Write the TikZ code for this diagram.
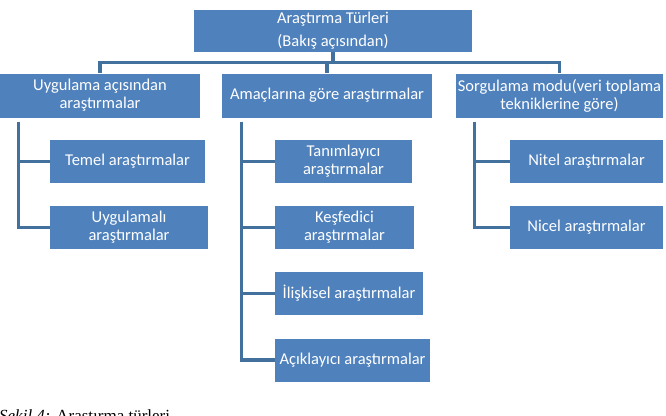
\documentclass[tikz,border=0pt]{standalone}
\usepackage{fontspec}
\setmainfont{Carlito}
\newfontfamily\capfont{Liberation Serif}
\definecolor{boxblue}{RGB}{79,129,189}
\definecolor{lineblue}{RGB}{65,113,156}
\begin{document}
\begin{tikzpicture}[x=1pt,y=-1pt,
	kutu/.style={fill=boxblue,text=white,inner sep=0pt,minimum height=43pt,align=center,font=\fontsize{16.5}{18}\selectfont},
	bag/.style={draw=lineblue,line width=3.2pt}]
	\useasboundingbox (0,0) rectangle (666,415);
	% ust kutu ve ikinci seviye
	\node[kutu,minimum width=278pt,minimum height=42pt,font=\fontsize{16.5}{23}\selectfont] (tur) at (333,31) {Araştırma Türleri\\(Bakış açısından)};
	\node[kutu,minimum width=200pt,minimum height=44pt] (uyg) at (100,95.5) {Uygulama açısından\\araştırmalar};
	\node[kutu,minimum width=210pt,minimum height=44pt] (amac) at (327,95.5) {Amaçlarına göre araştırmalar};
	\node[kutu,minimum width=207pt,minimum height=44pt] (sor) at (559.5,95.5) {Sorgulama modu(veri toplama\\tekniklerine göre)};
	% alt kutular
	\foreach \n/\x/\y/\w/\t in {temel/127.5/161.5/155/Temel araştırmalar, uygm/129/227.5/158/Uygulamalı\\araştırmalar,
		tan/343.5/161.5/137/Tanımlayıcı\\araştırmalar, kes/344.5/227.5/139/Keşfedici\\araştırmalar,
		ilis/349/293.5/148/İlişkisel araştırmalar, acik/352.5/360/155/Açıklayıcı araştırmalar,
		nitel/586.5/161.5/153/Nitel araştırmalar, nicel/586.5/227.5/153/Nicel araştırmalar}
		\node[kutu,minimum width=\w pt] (\n) at (\x,\y) {\t};
	% baglantilar
	\draw[bag](tur.south)--++(0,10);
	\draw[bag](uyg.north)--++(0,-11)-|(sor.north);
	\draw[bag](amac.north)--++(0,-11);
	\coordinate (g1) at ([xshift=19pt,yshift=-4pt]uyg.south west);
	\coordinate (g2) at ([xshift=20pt,yshift=-4pt]amac.south west);
	\coordinate (g3) at ([xshift=19pt,yshift=-4pt]sor.south west);
	\draw[bag](g1)|-(uygm.west) (temel.west)--(temel.west-|g1);
	\draw[bag](g2)|-(acik.west) \foreach \c in {tan,kes,ilis}{(\c.west)--(\c.west-|g2)};
	\draw[bag](g3)|-(nicel.west) (nitel.west)--(nitel.west-|g3);
	% sekil yazisi
	\node[anchor=base west,inner sep=0pt,font=\capfont\fontsize{17}{20}\selectfont] (yazi) at (-1,421) {\textit{Şekil 4:} Araştırma türleri};
\end{tikzpicture}
\end{document}
